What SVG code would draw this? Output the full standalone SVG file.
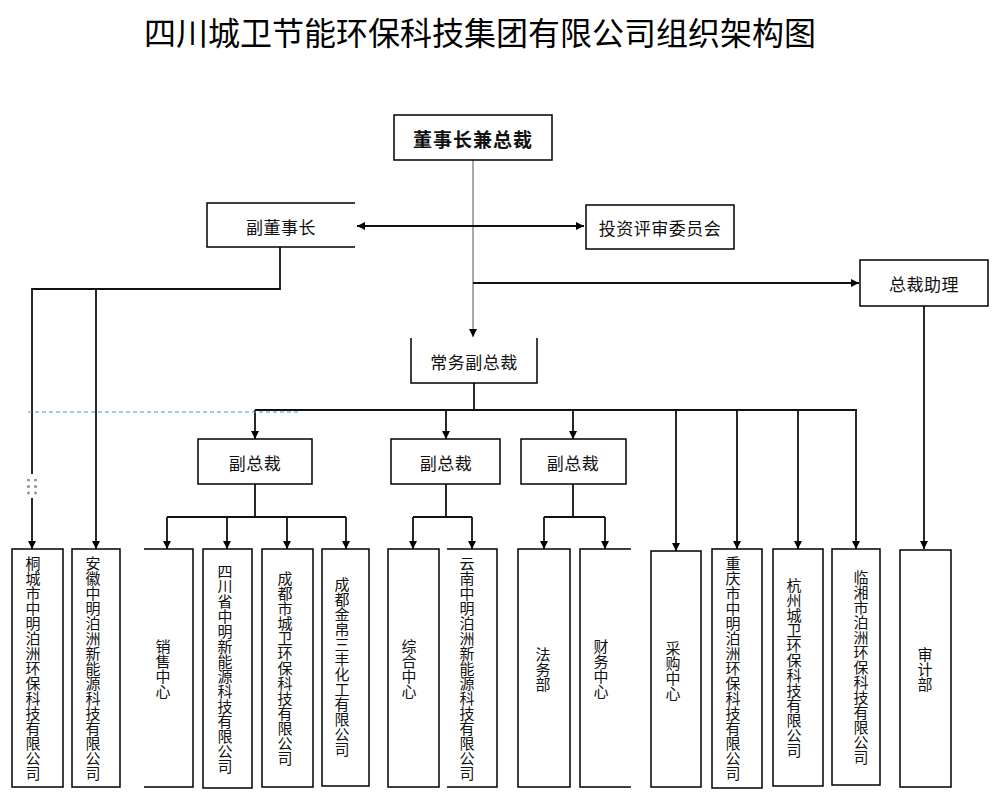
<svg xmlns="http://www.w3.org/2000/svg" width="1000" height="806" viewBox="0 0 1000 806">
<style>
.box{fill:#fff;stroke:#000;stroke-width:1.5}
.open{fill:none;stroke:#000;stroke-width:1.5}
.t{font-family:"Noto Sans CJK SC","Noto Sans",sans-serif;font-size:17px;fill:#111;text-anchor:middle;dominant-baseline:central;letter-spacing:0.5px}
.tb{font-weight:bold;font-size:19px;letter-spacing:1px}
.v{font-family:"Noto Sans CJK SC","Noto Sans",sans-serif;font-size:15px;fill:#111;text-anchor:middle;writing-mode:vertical-rl}
.title{font-family:"Noto Sans CJK SC",sans-serif;font-size:32px;fill:#000;text-anchor:middle}
.c{fill:none;stroke:#111;stroke-width:1.8}
.cg{fill:none;stroke:#555;stroke-width:1}
.arr{marker-end:url(#ah)}
</style>
<defs>
<marker id="ah" markerUnits="userSpaceOnUse" markerWidth="10" markerHeight="10" refX="8" refY="4" orient="auto">
<path d="M0,0 L8,4 L0,8 Z" fill="#000"/>
</marker>
<marker id="ahs" markerUnits="userSpaceOnUse" markerWidth="10" markerHeight="10" refX="0" refY="4" orient="auto">
<path d="M8,0 L0,4 L8,8 Z" fill="#000"/>
</marker>
</defs>
<rect width="1000" height="806" fill="#fff"/>
<text class="title" x="480" y="45">四川城卫节能环保科技集团有限公司组织架构图</text>

<g id="connectors">
<path class="cg arr" d="M473,160 V337"/>
<path class="c" d="M357,226 H584" marker-start="url(#ahs)" marker-end="url(#ah)"/>
<path class="c arr" d="M473,283 H859"/>
<path class="c" d="M280,247 V289 H32 V474"/>
<path class="c arr" d="M32,498 V549"/>
<path class="c arr" d="M96,289 V549"/>
<path class="c arr" d="M924,306 V549"/>
<path class="c" d="M474,383 V410"/>
<path class="c" d="M255,410 H857"/>
<path class="c arr" d="M255,410 V439"/>
<path class="c arr" d="M446,410 V439"/>
<path class="c arr" d="M573,410 V439"/>
<path class="c arr" d="M676,410 V551"/>
<path class="c arr" d="M737,410 V549"/>
<path class="c arr" d="M798,410 V549"/>
<path class="c arr" d="M856,410 V549"/>
<path class="c" d="M255,484 V517 M167,517 H346"/>
<path class="c arr" d="M167,517 V549"/>
<path class="c arr" d="M227,517 V549"/>
<path class="c arr" d="M287,517 V549"/>
<path class="c arr" d="M346,517 V549"/>
<path class="c" d="M446,484 V517 M413,517 H472"/>
<path class="c arr" d="M413,517 V549"/>
<path class="c arr" d="M472,517 V549"/>
<path class="c" d="M573,484 V517 M544,517 H605"/>
<path class="c arr" d="M544,517 V549"/>
<path class="c arr" d="M605,517 V549"/>
<path d="M28,412 H298" fill="none" stroke="#4a90d9" stroke-width="1" stroke-dasharray="4,3"/>
<g fill="#999">
<circle cx="28.5" cy="480" r="1.6"/><circle cx="35.5" cy="480" r="1.6"/>
<circle cx="28.5" cy="486.5" r="1.6"/><circle cx="35.5" cy="486.5" r="1.6"/>
<circle cx="28.5" cy="493" r="1.6"/><circle cx="35.5" cy="493" r="1.6"/>
</g>
</g>

<g id="n-chair"><rect class="box" x="394" y="115" width="158" height="45"/><text class="t tb" x="473" y="138">董事长兼总裁</text></g>
<g id="n-vicechair"><path class="open" d="M355,203 H207 V247 H355"/><text class="t" x="281" y="226">副董事长</text></g>
<g id="n-invest"><rect class="box" x="586" y="205" width="148" height="44"/><text class="t" x="660" y="227">投资评审委员会</text></g>
<g id="n-assist"><rect class="box" x="860" y="260" width="128" height="46"/><text class="t" x="924" y="283">总裁助理</text></g>
<g id="n-evp"><path class="open" d="M411,338 V383 H537 V338"/><text class="t" x="474" y="361">常务副总裁</text></g>
<g id="n-vp1"><rect class="box" x="198" y="439" width="114" height="45"/><text class="t" x="255" y="462">副总裁</text></g>
<g id="n-vp2"><rect class="box" x="391" y="439" width="109" height="45"/><text class="t" x="446" y="462">副总裁</text></g>
<g id="n-vp3"><rect class="box" x="521" y="439" width="105" height="45"/><text class="t" x="573" y="462">副总裁</text></g>

<g id="n-tongcheng"><rect class="box" x="12" y="549" width="51" height="238"/><text class="v" x="33" y="668">桐城市中明泊洲环保科技有限公司</text></g>
<g id="n-anhui"><rect class="box" x="72" y="549" width="48" height="238"/><text class="v" x="93" y="668">安徽中明泊洲新能源科技有限公司</text></g>
<g id="n-sales"><path class="open" d="M144,549 H193 V787 H144"/><text class="v" x="163" y="669">销售中心</text></g>
<g id="n-sichuan"><rect class="box" x="203" y="549" width="49" height="239"/><text class="v" x="225" y="669">四川省中明新能源科技有限公司</text></g>
<g id="n-chengdu"><rect class="box" x="262" y="549" width="51" height="238"/><text class="v" x="285" y="668">成都市城卫环保科技有限公司</text></g>
<g id="n-jinbo"><rect class="box" x="322" y="549" width="47" height="237"/><text class="v" x="342" y="667">成都金帛三丰化工有限公司</text></g>
<g id="n-general"><rect class="box" x="388" y="549" width="51" height="238"/><text class="v" x="409" y="669">综合中心</text></g>
<g id="n-yunnan"><path class="open" d="M447,549 H497 V787 H447"/><text class="v" x="467" y="668">云南中明泊洲新能源科技有限公司</text></g>
<g id="n-legal"><rect class="box" x="518" y="549" width="52" height="238"/><text class="v" x="543" y="669">法务部</text></g>
<g id="n-finance"><path class="open" d="M631,549 H580 V787 H631"/><text class="v" x="601" y="669">财务中心</text></g>
<g id="n-purchase"><rect class="box" x="651" y="551" width="50" height="236"/><text class="v" x="673" y="671">采购中心</text></g>
<g id="n-chongqing"><rect class="box" x="712" y="549" width="50" height="239"/><text class="v" x="733" y="668">重庆市中明泊洲环保科技有限公司</text></g>
<g id="n-hangzhou"><rect class="box" x="773" y="549" width="50" height="237"/><text class="v" x="794" y="668">杭州城卫环保科技有限公司</text></g>
<g id="n-linxiang"><rect class="box" x="832" y="549" width="48" height="236"/><text class="v" x="861" y="667">临湘市泊洲环保科技有限公司</text></g>
<g id="n-audit"><rect class="box" x="900" y="550" width="51" height="237"/><text class="v" x="925" y="669">审计部</text></g>
</svg>
